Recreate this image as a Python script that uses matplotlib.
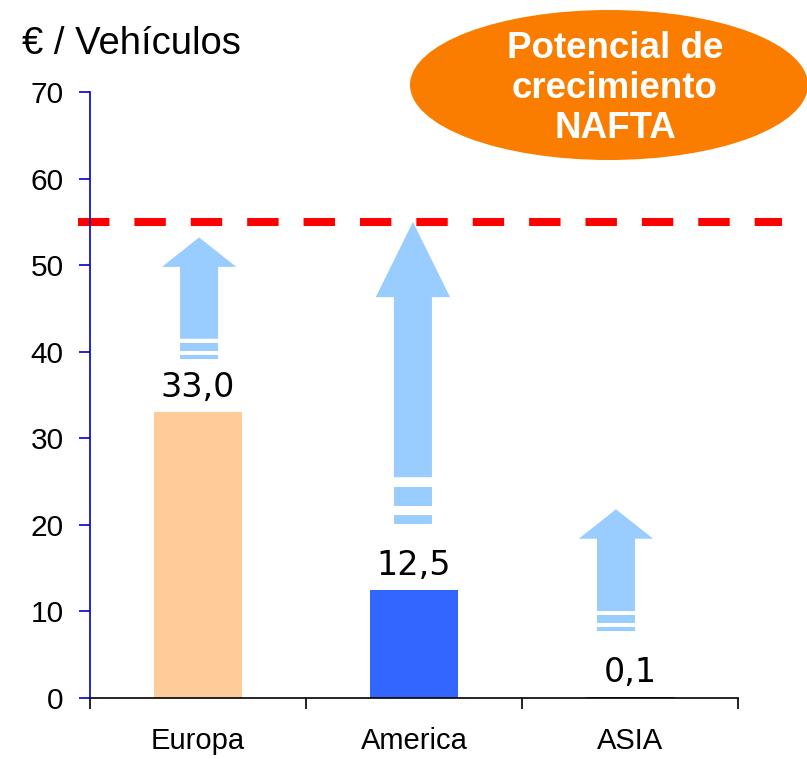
import matplotlib
matplotlib.use("Agg")
import matplotlib.pyplot as plt
from matplotlib.patches import Ellipse, Polygon, Rectangle

# ---- data ----
categories = ["Europa", "America", "ASIA"]
values = [33.0, 12.5, 0.1]
value_labels = ["33,0", "12,5", "0,1"]
bar_colors = ["#FFCC99", "#3366FF", "#1F4E8C"]
target_level = 55
y_ticks = [0, 10, 20, 30, 40, 50, 60, 70]

# growth arrows (data units)
arrow_tip = [53.2, 55.0, 21.8]
arrow_head_base = [49.8, 46.3, 18.4]
arrow_shaft_bottom = [41.5, 25.5, 10.05]
stripe1 = [(40.1, 41.0), (22.2, 24.4), (8.7, 9.6)]
stripe2 = [(39.2, 39.6), (20.1, 21.1), (7.7, 8.2)]
arrow_offset = [0.005, -0.005, -0.065]

title_text = "€ / Vehículos"
bubble_lines = ["Potencial de", "crecimiento", "NAFTA"]

W, H = 807, 759
fig = plt.figure(figsize=(W / 100, H / 100), dpi=100)
ax = fig.add_axes([90 / W, 1 - 698 / H, (738 - 90) / W, (698 - 92) / H])

x = list(range(len(categories)))
ax.bar(x, values, width=0.403, color=bar_colors, zorder=2)
ax.set_xlim(-0.5, 2.5)
ax.set_ylim(0, 70)

arrow_color = "#99CCFF"
hw, sw = 0.172, 0.088
for i in range(len(categories)):
    cx = x[i] + arrow_offset[i]
    pts = [(cx, arrow_tip[i]), (cx + hw, arrow_head_base[i]), (cx + sw, arrow_head_base[i]),
           (cx + sw, arrow_shaft_bottom[i]), (cx - sw, arrow_shaft_bottom[i]),
           (cx - sw, arrow_head_base[i]), (cx - hw, arrow_head_base[i])]
    ax.add_patch(Polygon(pts, closed=True, facecolor=arrow_color, edgecolor="none", zorder=1))
    for (lo, hi) in (stripe1[i], stripe2[i]):
        ax.add_patch(Rectangle((cx - sw, lo), 2 * sw, hi - lo, facecolor=arrow_color,
                               edgecolor="none", zorder=1))

# value labels
for i, v in enumerate(values):
    ax.annotate(value_labels[i], (x[i], v), xytext=(0, 11), textcoords="offset points",
                ha="center", va="baseline", fontsize=24, family="DejaVu Sans", color="black")

# dashed target line (extends beyond the axes)
ax.plot([-0.556, 2.704], [target_level, target_level], color="#FF0000", lw=5.8,
        dashes=(3.9, 3.1), dash_capstyle="butt", clip_on=False, zorder=3)

# spines / ticks
blue = "#0000C8"
for s in ("top", "right"):
    ax.spines[s].set_visible(False)
ax.spines["left"].set_color(blue)
ax.spines["left"].set_linewidth(1.2)
ax.spines["bottom"].set_color("black")
ax.spines["bottom"].set_linewidth(1.2)
ax.spines["left"].set_zorder(4)

ax.set_yticks(y_ticks)
ax.set_yticklabels([str(t) for t in y_ticks])
ax.tick_params(axis="y", direction="out", length=8, width=1.2, color=blue,
               labelsize=21.5, pad=11)
for lab in ax.get_yticklabels():
    lab.set_family("Liberation Sans")

ax.set_xticks([-0.5, 0.5, 1.5, 2.5])
ax.set_xticklabels([])
ax.tick_params(axis="x", which="major", direction="out", length=8, width=1.2, color="black")
ax.set_xticks(x, minor=True)
ax.set_xticklabels(categories, minor=True)
ax.tick_params(axis="x", which="minor", length=0, labelsize=21, pad=21)
for lab in ax.get_xticklabels(minor=True):
    lab.set_family("Liberation Sans")

# title
fig.text(22 / W, 1 - 54 / H, title_text, fontsize=27.5, family="Liberation Sans",
         ha="left", va="baseline")

# orange bubble
ell = Ellipse((609 / W, 1 - 85 / H), 398 / W, 150 / H, transform=fig.transFigure,
              facecolor="#FA7D00", edgecolor="none")
fig.add_artist(ell)
for j, line in enumerate(bubble_lines):
    fig.text(615 / W, 1 - (58 + 40 * j) / H, line, fontsize=26.5, fontweight="bold",
             family="Liberation Sans", color="white", ha="center", va="baseline")

fig.savefig("out.png", dpi=100)
